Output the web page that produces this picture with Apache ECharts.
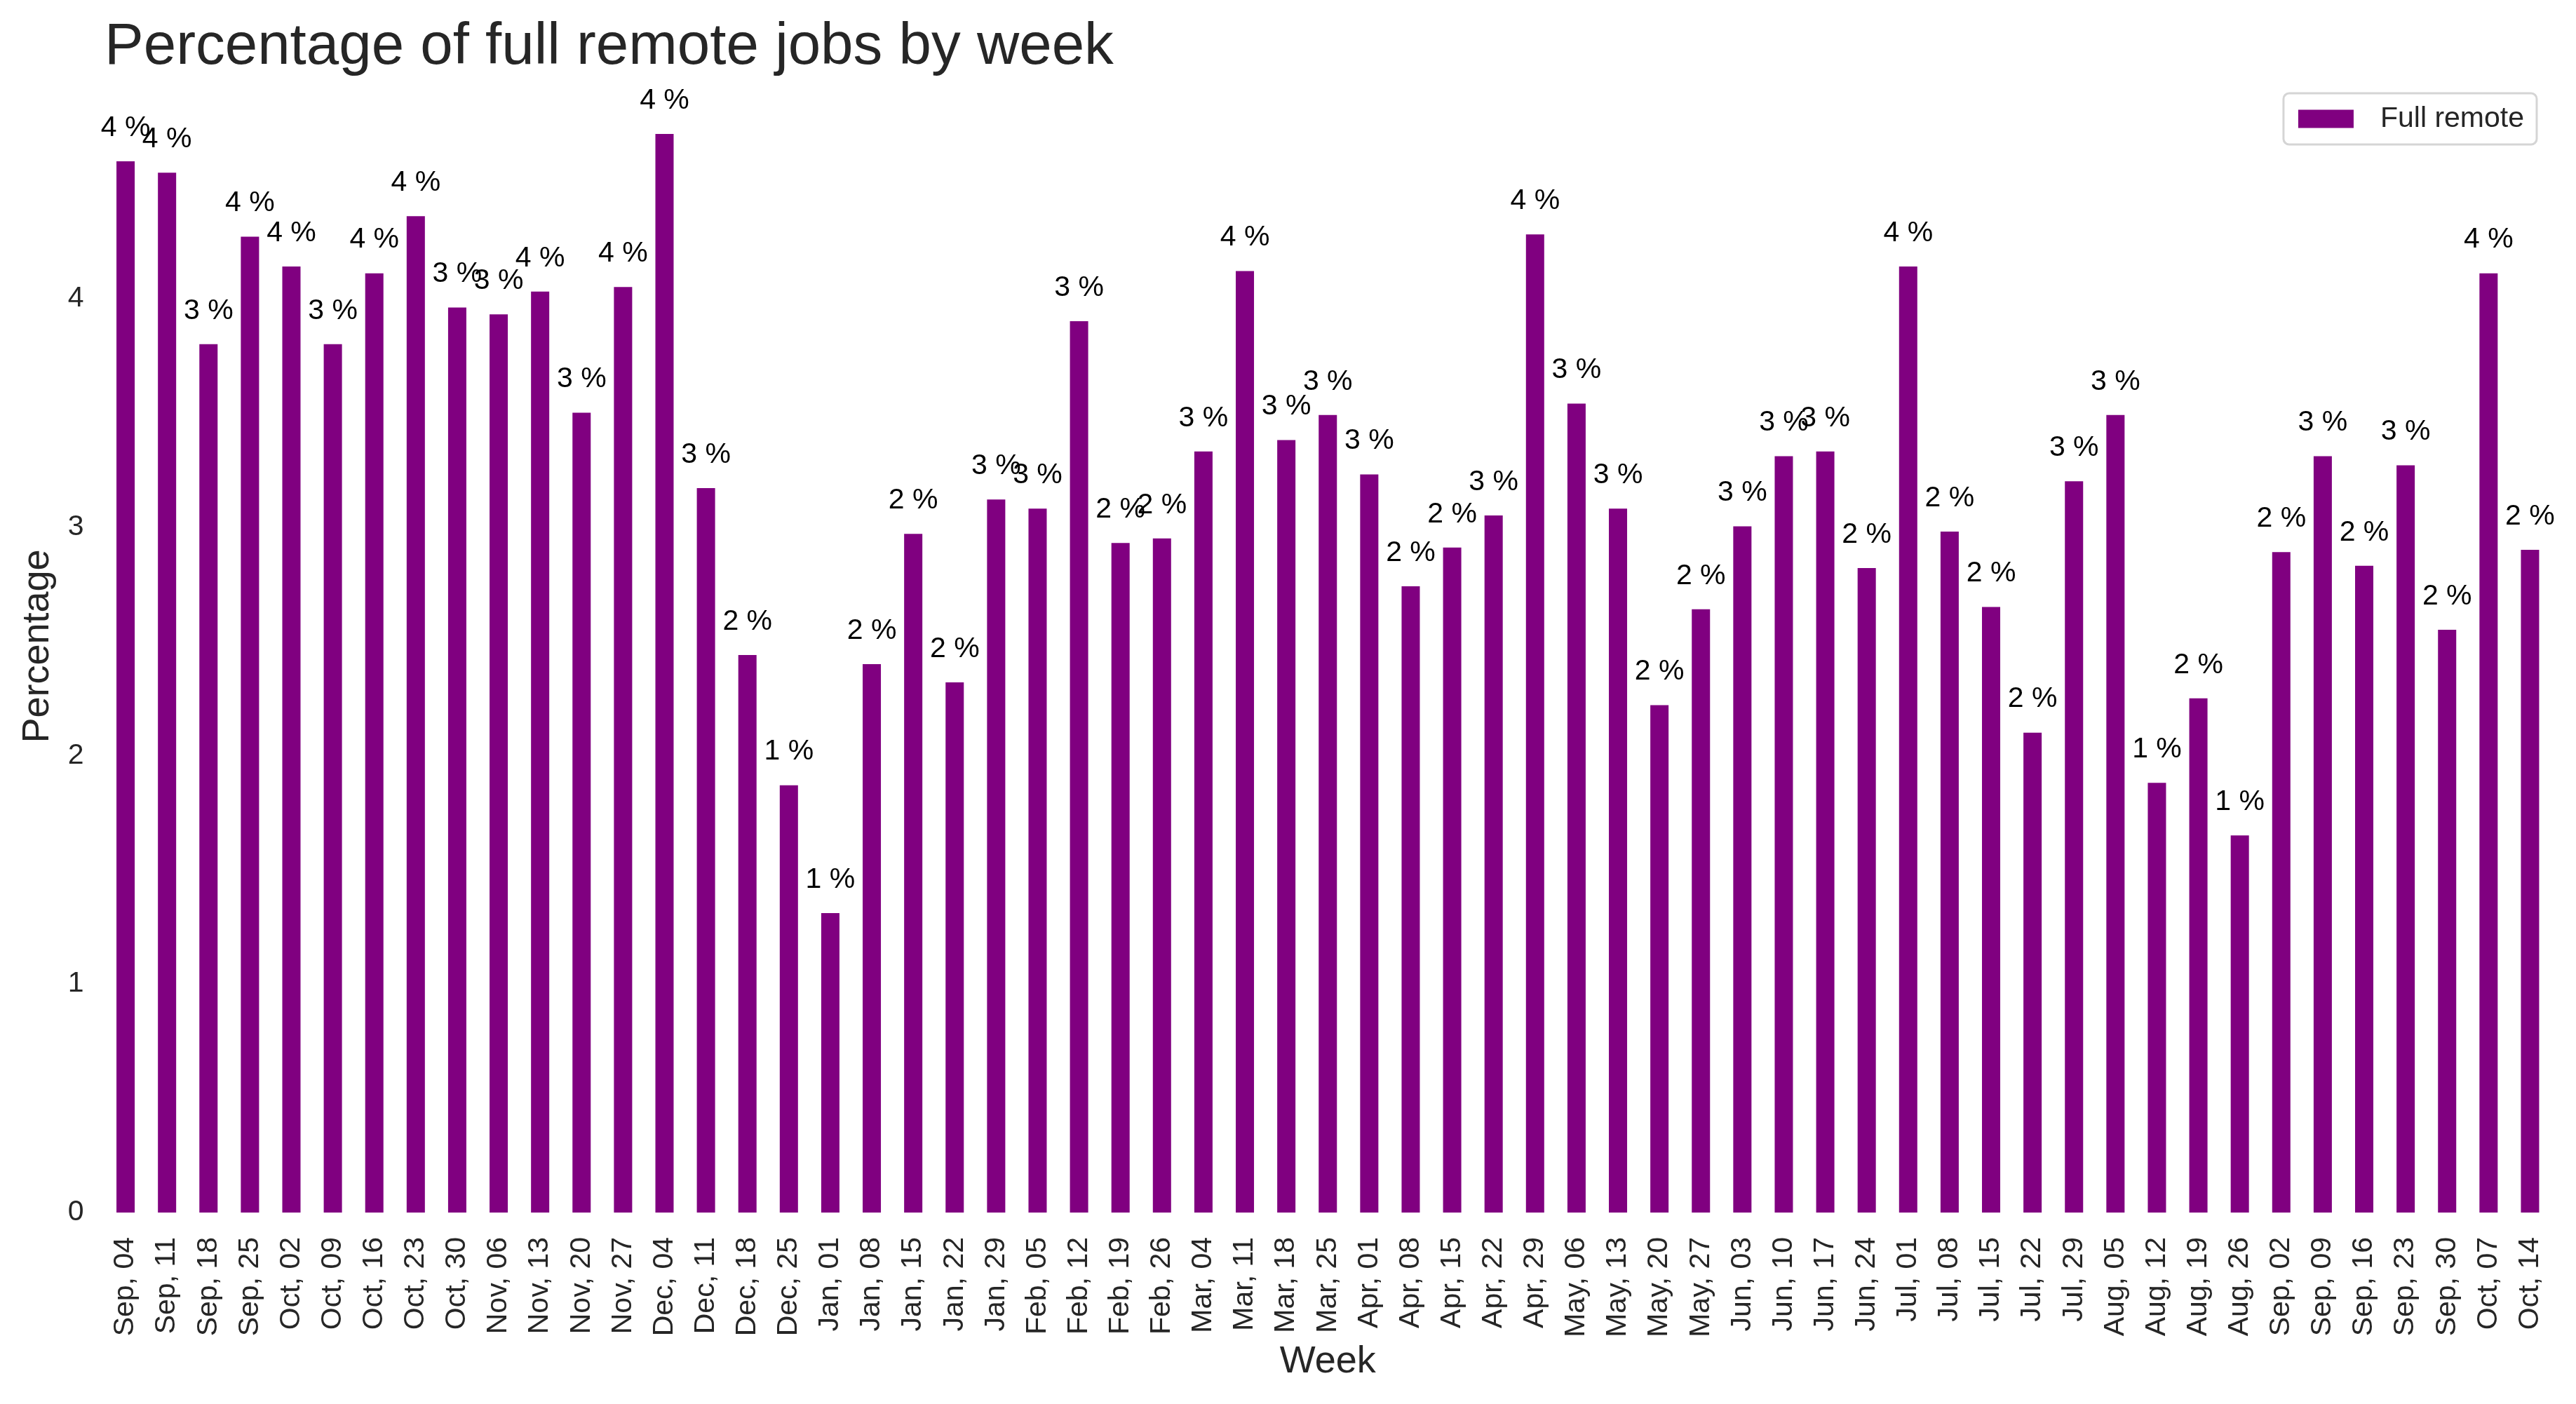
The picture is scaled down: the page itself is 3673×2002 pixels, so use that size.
<!DOCTYPE html>
<html>
<head>
<meta charset="utf-8">
<script src="https://cdn.jsdelivr.net/npm/echarts@6/dist/echarts.min.js"></script>
<style>
html,body{margin:0;padding:0;background:#fff;}
#chart{width:3673px;height:2002px;}
</style>
</head>
<body>
<div id="chart"></div>
<script>
const weeks = ["Sep, 04","Sep, 11","Sep, 18","Sep, 25","Oct, 02","Oct, 09","Oct, 16","Oct, 23","Oct, 30","Nov, 06","Nov, 13","Nov, 20","Nov, 27","Dec, 04","Dec, 11","Dec, 18","Dec, 25","Jan, 01","Jan, 08","Jan, 15","Jan, 22","Jan, 29","Feb, 05","Feb, 12","Feb, 19","Feb, 26","Mar, 04","Mar, 11","Mar, 18","Mar, 25","Apr, 01","Apr, 08","Apr, 15","Apr, 22","Apr, 29","May, 06","May, 13","May, 20","May, 27","Jun, 03","Jun, 10","Jun, 17","Jun, 24","Jul, 01","Jul, 08","Jul, 15","Jul, 22","Jul, 29","Aug, 05","Aug, 12","Aug, 19","Aug, 26","Sep, 02","Sep, 09","Sep, 16","Sep, 23","Sep, 30","Oct, 07","Oct, 14"];
const fullRemote = [4.60,4.55,3.80,4.27,4.14,3.80,4.11,4.36,3.96,3.93,4.03,3.50,4.05,4.72,3.17,2.44,1.87,1.31,2.40,2.97,2.32,3.12,3.08,3.90,2.93,2.95,3.33,4.12,3.38,3.49,3.23,2.74,2.91,3.05,4.28,3.54,3.08,2.22,2.64,3.003,3.31,3.33,2.82,4.14,2.98,2.65,2.10,3.20,3.49,1.88,2.25,1.65,2.89,3.31,2.83,3.27,2.55,4.11,2.90];
const yTicks = [0,1,2,3,4];

const FONT = "'Liberation Sans', Arial, Helvetica, sans-serif";
const dataMax = Math.max.apply(null, fullRemote);

const chart = echarts.init(document.getElementById('chart'), null, {renderer:'canvas'});
chart.setOption({
  backgroundColor:'#ffffff',
  animation:false,
  title:{
    text:'Percentage of full remote jobs by week',
    left:144, top:21,
    textStyle:{fontFamily:FONT, fontSize:83.5, fontWeight:'normal', color:'#262626'}
  },
  legend:{
    data:['Full remote'],
    right:56, top:133,
    icon:'rect',
    itemWidth:79, itemHeight:26,
    padding:[16,18,16,21],
    borderColor:'#d5d5d5', borderWidth:3, borderRadius:8,
    textStyle:{fontFamily:FONT, fontSize:41, color:'#262626', padding:[0,0,0,33]}
  },
  grid:{left:149.5, right:36, top:114, bottom:273, containLabel:false},
  xAxis:{
    type:'category',
    data:weeks,
    name:'Week',
    nameLocation:'middle',
    nameGap:178,
    nameTextStyle:{fontFamily:FONT, fontSize:54, color:'#262626'},
    axisLine:{show:false},
    axisTick:{show:false},
    axisLabel:{rotate:90, interval:0, margin:35, fontFamily:FONT, fontSize:41, color:'#262626'}
  },
  yAxis:{
    type:'value',
    min:0,
    max:dataMax*1.05,
    interval:1,
    name:'Percentage',
    nameLocation:'middle',
    nameGap:68,
    nameTextStyle:{fontFamily:FONT, fontSize:54, color:'#262626'},
    axisLine:{show:false},
    axisTick:{show:false},
    splitLine:{show:false},
    axisLabel:{
      margin:30, fontFamily:FONT, fontSize:41, color:'#262626',
      showMaxLabel:false,
      formatter:function(v){ return yTicks.indexOf(v) >= 0 ? String(v) : ''; }
    }
  },
  series:[{
    name:'Full remote',
    type:'bar',
    data:fullRemote,
    barWidth:'44%',
    itemStyle:{color:'#800080'},
    label:{
      show:true,
      position:'top',
      distance:27,
      fontFamily:FONT, fontSize:41, color:'#000000',
      formatter:function(p){ return Math.floor(p.value) + ' %'; }
    }
  }]
});
</script>
</body>
</html>
